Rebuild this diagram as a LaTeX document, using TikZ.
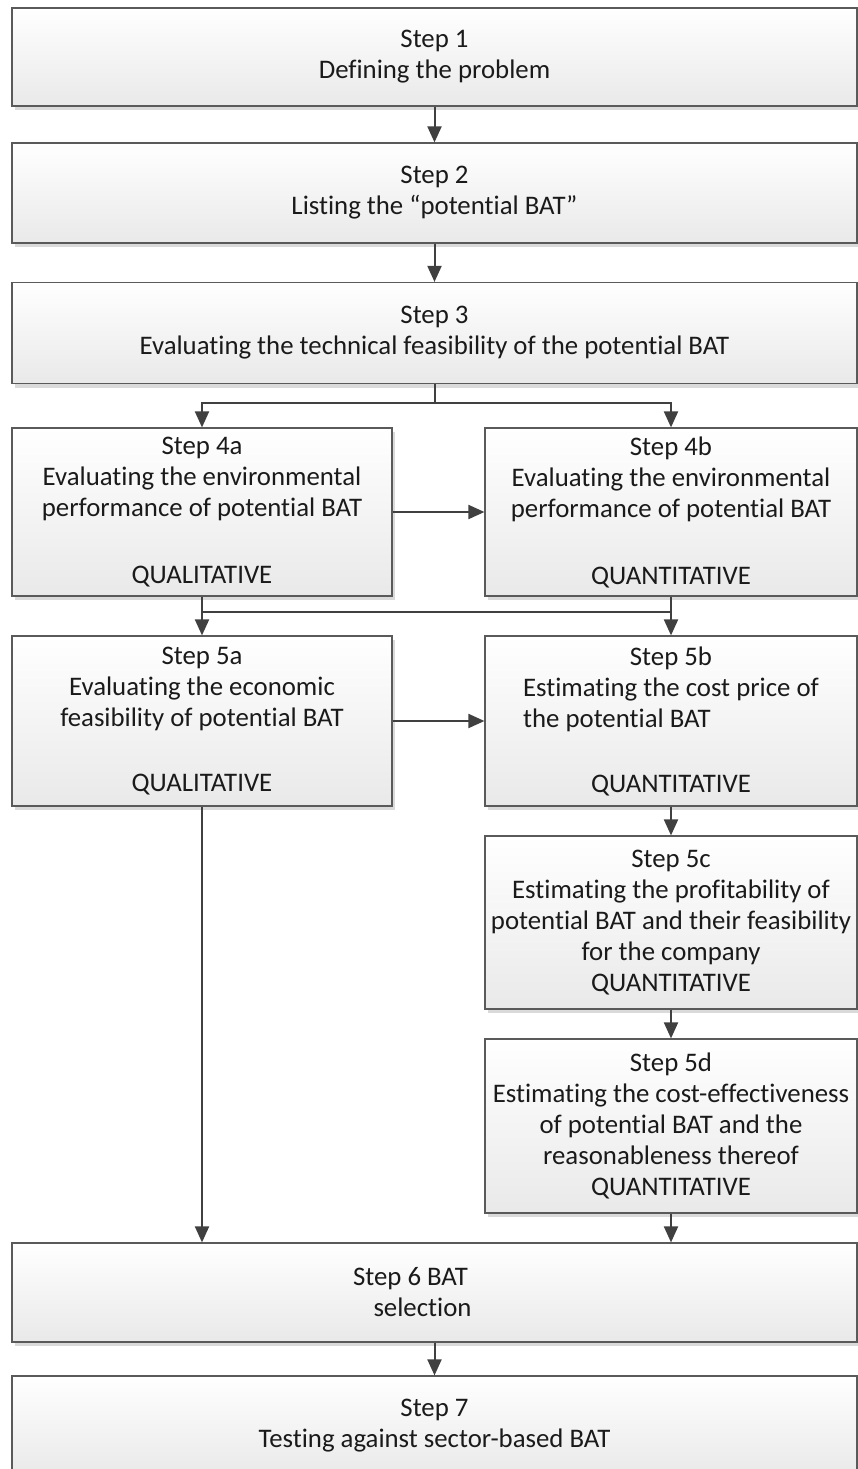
\documentclass[tikz,border=0pt]{standalone}
\usepackage{fontspec}
\setmainfont{Carlito}[Ligatures=NoCommon]
\usetikzlibrary{arrows.meta,shadows}
\definecolor{boxline}{HTML}{5A5A5A}
\definecolor{boxbot}{HTML}{E9E9E9}
\definecolor{shadowc}{HTML}{DADADA}
\definecolor{arrc}{HTML}{404040}
\definecolor{txtc}{HTML}{1A1A1A}
\tikzset{
  box/.style={draw=boxline, line width=1.2pt, top color=white, bottom color=boxbot,
    drop shadow={shadow xshift=3pt, shadow yshift=-4pt, fill=shadowc, opacity=1},
    rectangle, inner sep=0pt, align=center, text=txtc,
    font=\fontsize{26.8}{31}\selectfont},
  arr/.style={draw=arrc, line width=2pt, -{Triangle[length=16pt,width=14pt]}},
  seg/.style={draw=arrc, line width=2pt}
}
\begin{document}
\begin{tikzpicture}[x=1pt,y=-1pt]
\useasboundingbox (0,0) rectangle (858,1469);
\clip (0,0) rectangle (858,1469);
\fill[white] (0,0) rectangle (858,1469);

\node[box, minimum width=845, minimum height=98] (b1) at (434.5,57)
  {Step 1\\Defining the problem};
\node[box, minimum width=845, minimum height=100] (b2) at (434.5,193)
  {Step 2\\Listing the “potential BAT”};
\node[box, minimum width=845, minimum height=101] (b3) at (434.5,333)
  {Step 3\\Evaluating the technical feasibility of the potential BAT};
\node[box, minimum width=380, minimum height=168] (b4a) at (202,512)
  {Step 4a\\Evaluating the environmental\\performance of potential BAT\\[36pt]QUALITATIVE};
\node[box, minimum width=372, minimum height=168] (b4b) at (671,512)
  {Step 4b\\Evaluating the environmental\\performance of potential BAT\\[36pt]QUANTITATIVE};
\node[box, minimum width=380, minimum height=170] (b5a) at (202,721)
  {Step 5a\\Evaluating the economic\\feasibility of potential BAT\\[34pt]QUALITATIVE};
\node[box, minimum width=372, minimum height=170] (b5b) at (671,721)
  {Step 5b\\Estimating the cost price of\\\rlap{the potential BAT}\phantom{Estimating the cost price of}\\[34pt]QUANTITATIVE};
\node[box, minimum width=372, minimum height=173] (b5c) at (671,922.5)
  {Step 5c\\Estimating the profitability of\\potential BAT and their feasibility\\for the company\\QUANTITATIVE};
\node[box, minimum width=372, minimum height=174] (b5d) at (671,1126)
  {Step 5d\\Estimating the cost-effectiveness\\of potential BAT and the\\reasonableness thereof\\QUANTITATIVE};
\node[box, minimum width=845, minimum height=99] (b6) at (434.5,1292.5)
  {Step 6 BAT\hspace*{48pt}\\selection\hspace*{24pt}};
\node[box, minimum width=845, minimum height=100] (b7) at (434.5,1426)
  {Step 7\\Testing against sector-based BAT};

\draw[arr] (b1.south) -- (b2.north);
\draw[arr] (b2.south) -- (b3.north);
\draw[arr] (b3.south) -- ++(0,19) -| (b4a.north);
\draw[arr] (b3.south) -- ++(0,19) -| (b4b.north);
\draw[arr] (b4a.east) -- (b4b.west);
\draw[arr] (b4a.south) -- (b5a.north);
\draw[arr] (b4b.south) -- (b5b.north);
\draw[seg] (b4a.south) ++(0,15) coordinate (j1) -- (j1 -| b4b.south);
\draw[arr] (b5a.east) -- (b5b.west);
\draw[arr] (b5b.south) -- (b5c.north);
\draw[arr] (b5c.south) -- (b5d.north);
\draw[arr] (b5a.south) -- (b5a.south |- b6.north);
\draw[arr] (b5d.south) -- (b5d.south |- b6.north);
\draw[arr] (b6.south) -- (b7.north);
\end{tikzpicture}
\end{document}
